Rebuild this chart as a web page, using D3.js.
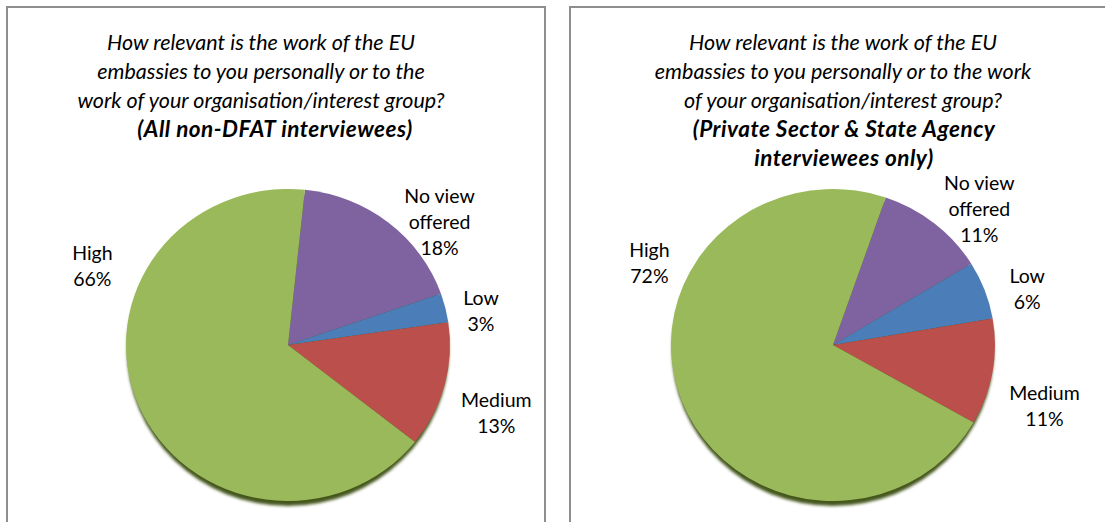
<!DOCTYPE html>
<html>
<head>
<meta charset="utf-8">
<script src="https://cdn.jsdelivr.net/npm/d3@7"></script>
<style>
  body { margin: 0; background: #fff; }
  svg { display: block; }
</style>
</head>
<body>
<div id="chart"></div>
<script>

// ---- data ----------------------------------------------------------

const categories = ['No view offered', 'Low', 'Medium', 'High']
const labelLines = [['No view', 'offered'], ['Low'], ['Medium'], ['High']]
const allValues = [18, 3, 13, 66]
const privateValues = [11, 6, 11, 72]

const titleAll = [
    'How relevant is the work of the EU',
    'embassies to you personally or to the',
    'work of your organisation/interest group?'
]
const subtitleAll = ['(All non-DFAT interviewees)']

const titlePrivate = [
    'How relevant is the work of the EU',
    'embassies to you personally or to the work',
    'of your organisation/interest group?'
]
const subtitlePrivate = ['(Private Sector & State Agency', 'interviewees only)']

// ---- layout --------------------------------------------------------

const width = 1105,
      height = 522,
      font = 'Lato, "Open Sans", sans-serif',
      colors = d3.scaleOrdinal()
                .domain(categories)
                .range(['#7f63a1', '#4b7db8', '#ba4f4c', '#9ab95a'])

const panels = [
    {x: 7, title: titleAll, subtitle: subtitleAll, values: allValues,
     cx: 288, cy: 345, titleX: 261, subtitleX: 275, startAngle: 6,
     labels: [[51, 195], [80, 196], [108, 219], [292, 211]]},
    {x: 570, title: titlePrivate, subtitle: subtitlePrivate, values: privateValues,
     cx: 833, cy: 345, titleX: 843, subtitleX: 844, startAngle: 19,
     labels: [[47, 200], [74, 202], [106, 220], [294, 201]]}
]

const rx = 162, ry = 156

const svg = d3.select('#chart')
    .append('svg')
    .attr('width', width)
    .attr('height', height)
    .attr('font-family', font)

const defs = svg.append('defs')
defs.append('filter')
    .attr('id', 'blur')
    .append('feGaussianBlur')
    .attr('stdDeviation', 1.4)

panels.forEach(function(p) {

    // panel frame (runs off the bottom of the picture)
    svg.append('rect')
        .attr('x', p.x)
        .attr('y', 7)
        .attr('width', 538)
        .attr('height', 600)
        .attr('fill', 'none')
        .attr('stroke', '#8e8e8e')
        .attr('stroke-width', 2)

    const title = svg.append('text')
        .attr('text-anchor', 'middle')
        .attr('font-size', '21.5px')
        .attr('font-style', 'italic')
        .attr('fill', '#000')

    p.title.concat(p.subtitle).forEach(function(line, i) {
        const bold = i >= p.title.length
        title.append('tspan')
            .attr('x', bold ? p.subtitleX : p.titleX)
            .attr('y', 50 + i * 29)
            .attr('font-weight', bold ? 'bold' : 'normal')
            .attr('font-size', bold ? '22.5px' : null)
            .attr('letter-spacing', bold ? '0.5px' : null)
            .text(line)
    })

    const pie = d3.pie()
        .sort(null)
        .startAngle(p.startAngle * Math.PI / 180)
        .endAngle((p.startAngle + 360) * Math.PI / 180)

    const arcs = pie(p.values)

    const arc = d3.arc()
        .innerRadius(0)
        .outerRadius(rx)

    const g = svg.append('g')
        .attr('transform', `translate(${p.cx},${p.cy})`)

    // drop shadow under the pie
    g.append('ellipse')
        .attr('cx', 0)
        .attr('cy', 5)
        .attr('rx', rx - 1)
        .attr('ry', ry)
        .attr('fill', '#44561f')
        .attr('filter', 'url(#blur)')

    g.append('g')
        .attr('transform', `scale(1,${ry / rx})`)
        .selectAll('path')
        .data(arcs)
        .join('path')
        .attr('fill', (d, i) => colors(categories[i]))
        .attr('d', arc)

    g.selectAll('text.label')
        .data(arcs)
        .join('text')
        .attr('class', 'label')
        .attr('text-anchor', 'middle')
        .attr('font-size', '19.5px')
        .attr('fill', '#000')
        .each(function(d, i) {
            const pos = d3.pointRadial(p.labels[i][0] * Math.PI / 180, p.labels[i][1])
            const lines = labelLines[i].concat([p.values[i] + '%'])
            const top = pos[1] - (lines.length - 1) * 26 / 2 + 7
            lines.forEach((t, k) => {
                d3.select(this).append('tspan')
                    .attr('x', pos[0])
                    .attr('y', top + k * 26)
                    .text(t)
            })
        })
})

</script>
</body>
</html>
